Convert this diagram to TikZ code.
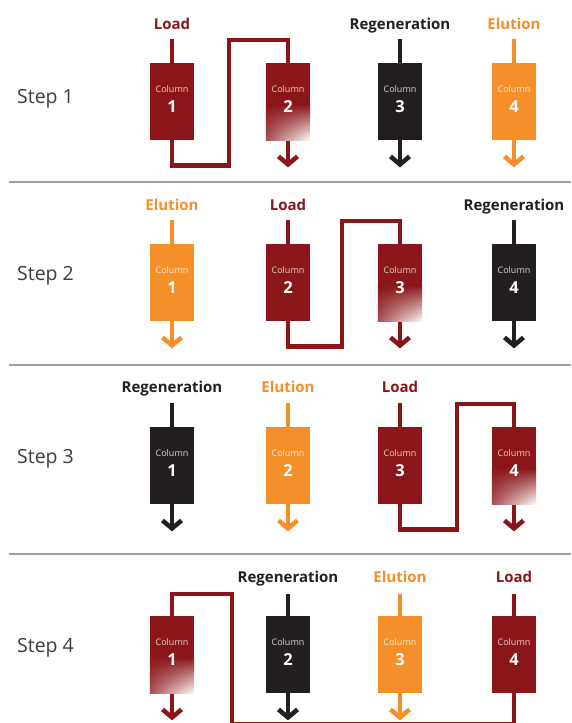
\documentclass[tikz,border=0pt]{standalone}
\usepackage{fontspec}
\setmainfont{Open Sans}
\usetikzlibrary{arrows.meta,calc,shadings}
\definecolor{dred}{RGB}{138,22,26}
\definecolor{orng}{RGB}{245,143,42}
\definecolor{blk}{RGB}{35,31,32}
\definecolor{steptxt}{RGB}{60,60,60}
\pgfdeclarelayer{bg}
\pgfsetlayers{bg,main}
\tikzset{
  colbox/.style={draw=none, minimum width=44pt, minimum height=77pt, inner sep=0pt, anchor=north},
  coltxt/.style={font=\fontsize{9}{10}\selectfont, text=white, text opacity=0.8, inner sep=0pt},
  colnum/.style={font=\bfseries\fontsize{16.5}{18}\selectfont, text=white, inner sep=0pt},
  flow/.style={line width=4.5pt},
  arr/.style={-{Straight Barb[length=8pt,width=19pt]}},
  stage/.style={font=\bfseries\fontsize{15}{17}\selectfont, inner sep=0pt, anchor=base},
  steplbl/.style={font=\fontsize{19.5}{21}\selectfont, text=steptxt, anchor=west, inner sep=0pt},
  sepline/.style={draw=gray!75, line width=1.2pt}
}
\newcommand\mkcol[5]{%
  \node[colbox, fill=#4] (#1) at (#2,#3) {};
  \node[coltxt] at ($(#1.north)+(0,26)$) {Column};
  \node[colnum] at ($(#1.north)+(0,44)$) {#5};
}
\newcommand\mkcolL[4]{%
  \node[colbox, fill=dred] (#1) at (#2,#3) {};
  \shade[upper left=dred, upper right=dred, lower left=dred!75!white, lower right=white]
    ($(#1.south west)+(0,-36)$) rectangle (#1.south east);
  \node[coltxt] at ($(#1.north)+(0,26)$) {Column};
  \node[colnum] at ($(#1.north)+(0,44)$) {#4};
}
\begin{document}
\begin{tikzpicture}[x=1pt,y=-1pt]
\useasboundingbox (0,0) rectangle (571,723);

% separators
\draw[sepline] (9,182) -- (571,182);
\draw[sepline] (9,365) -- (571,365);
\draw[sepline] (9,554) -- (571,554);

% step labels
\node[steplbl] (s1) at (17,99) {Step 1};
\node[steplbl] (s2) at (17,276) {Step 2};
\node[steplbl] (s3) at (17,459) {Step 3};
\node[steplbl] (s4) at (17,648) {Step 4};

% ---------- Step 1 ----------
\mkcol{c11}{172}{63}{dred}{1}
\mkcolL{c12}{288}{63}{2}
\mkcol{c13}{400}{63}{blk}{3}
\mkcol{c14}{514}{63}{orng}{4}
\node[stage,text=dred] (l11) at (172,29.5) {Load};
\node[stage,text=blk] (l13) at (400,29.5) {Regeneration};
\node[stage,text=orng] (l14) at (514,29.5) {Elution};
\coordinate (r1) at (229,40);
\begin{pgfonlayer}{bg}
\draw[flow,dred] ([yshift=24pt]c11.north) -- ([yshift=-25pt]c11.south) -| (r1) -| (c12.north);
\draw[flow,dred,arr] (c12.north) -- ([yshift=-27pt]c12.south);
\draw[flow,blk,arr] ([yshift=24pt]c13.north) -- ([yshift=-27pt]c13.south);
\draw[flow,orng,arr] ([yshift=24pt]c14.north) -- ([yshift=-27pt]c14.south);
\end{pgfonlayer}

% ---------- Step 2 ----------
\mkcol{c21}{172}{244}{orng}{1}
\mkcol{c22}{288}{244}{dred}{2}
\mkcolL{c23}{400}{244}{3}
\mkcol{c24}{514}{244}{blk}{4}
\node[stage,text=orng] (l21) at (172,210.5) {Elution};
\node[stage,text=dred] (l22) at (288,210.5) {Load};
\node[stage,text=blk] (l24) at (514,210.5) {Regeneration};
\coordinate (r2) at (342,221);
\begin{pgfonlayer}{bg}
\draw[flow,orng,arr] ([yshift=24pt]c21.north) -- ([yshift=-27pt]c21.south);
\draw[flow,dred] ([yshift=24pt]c22.north) -- ([yshift=-25pt]c22.south) -| (r2) -| (c23.north);
\draw[flow,dred,arr] (c23.north) -- ([yshift=-27pt]c23.south);
\draw[flow,blk,arr] ([yshift=24pt]c24.north) -- ([yshift=-27pt]c24.south);
\end{pgfonlayer}

% ---------- Step 3 ----------
\mkcol{c31}{172}{427}{blk}{1}
\mkcol{c32}{288}{427}{orng}{2}
\mkcol{c33}{400}{427}{dred}{3}
\mkcolL{c34}{514}{427}{4}
\node[stage,text=blk] (l31) at (172,392.5) {Regeneration};
\node[stage,text=orng] (l32) at (288,392.5) {Elution};
\node[stage,text=dred] (l33) at (400,392.5) {Load};
\coordinate (r3) at (457,404);
\begin{pgfonlayer}{bg}
\draw[flow,blk,arr] ([yshift=24pt]c31.north) -- ([yshift=-27pt]c31.south);
\draw[flow,orng,arr] ([yshift=24pt]c32.north) -- ([yshift=-27pt]c32.south);
\draw[flow,dred] ([yshift=24pt]c33.north) -- ([yshift=-25pt]c33.south) -| (r3) -| (c34.north);
\draw[flow,dred,arr] (c34.north) -- ([yshift=-27pt]c34.south);
\end{pgfonlayer}

% ---------- Step 4 ----------
\mkcolL{c41}{172}{616}{1}
\mkcol{c42}{288}{616}{blk}{2}
\mkcol{c43}{400}{616}{orng}{3}
\mkcol{c44}{514}{616}{dred}{4}
\node[stage,text=blk] (l42) at (288,582.5) {Regeneration};
\node[stage,text=orng] (l43) at (400,582.5) {Elution};
\node[stage,text=dred] (l44) at (514,582.5) {Load};
\coordinate (b4) at (514,723.8);
\coordinate (r4) at (232,594);
\begin{pgfonlayer}{bg}
\draw[flow,dred] ([yshift=22pt]c44.north) -- (b4) -| (r4) -| (c41.north);
\draw[flow,dred,arr] (c41.north) -- ([yshift=-27pt]c41.south);
\draw[flow,blk,arr] ([yshift=22pt]c42.north) -- ([yshift=-27pt]c42.south);
\draw[flow,orng,arr] ([yshift=22pt]c43.north) -- ([yshift=-27pt]c43.south);
\end{pgfonlayer}
\end{tikzpicture}
\end{document}
